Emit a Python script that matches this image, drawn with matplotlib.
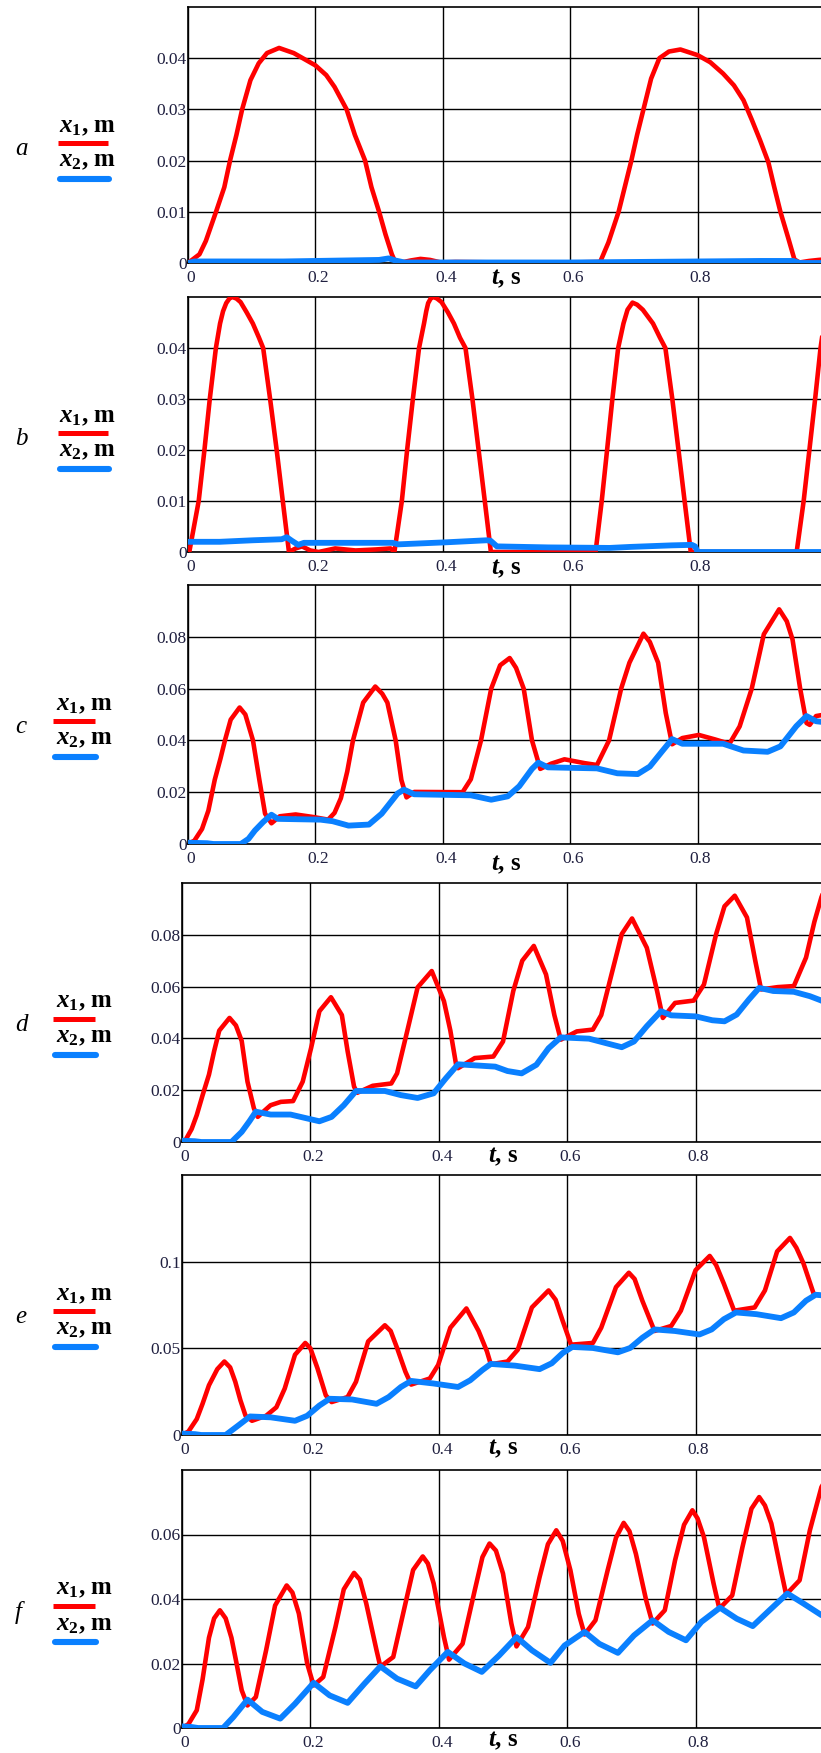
import matplotlib
matplotlib.use('Agg')
import matplotlib.pyplot as plt
from matplotlib.lines import Line2D
import matplotlib.transforms as mtransforms

# ── Data (t in s, x in m) ──────────────────────────────────

# panel a
ta1 = [0, 0.018, 0.028, 0.044, 0.057, 0.066, 0.076, 0.085, 0.098, 0.111, 0.124, 0.143,
       0.166, 0.2, 0.217, 0.23, 0.249, 0.262, 0.278, 0.288, 0.30, 0.31, 0.32, 0.325,
       0.335, 0.35, 0.365, 0.38, 0.397, 0.42, 0.5, 0.6, 0.647, 0.66, 0.676, 0.686,
       0.696, 0.705, 0.715, 0.727, 0.74, 0.755, 0.773, 0.8, 0.82, 0.84, 0.857, 0.872,
       0.885, 0.898, 0.911, 0.92, 0.93, 0.942, 0.952, 0.96, 0.975, 0.99, 1.0]
xa1 = [0, 0.0017, 0.0043, 0.01, 0.0148, 0.02, 0.025, 0.03, 0.0357, 0.039, 0.041, 0.042,
       0.041, 0.0386, 0.0367, 0.0344, 0.030, 0.025, 0.020, 0.0148, 0.010, 0.0056, 0.0017, 0.0003,
       0.0001, 0.0005, 0.0008, 0.0006, 0.0001, 0.0002, 0.0001, 0.0001, 0.0002, 0.004, 0.01, 0.015,
       0.02, 0.025, 0.03, 0.036, 0.04, 0.0413, 0.0417, 0.0406, 0.0392, 0.037, 0.0347, 0.0318,
       0.028, 0.024, 0.0197, 0.015, 0.01, 0.005, 0.0007, 0.0001, 0.0004, 0.0006, 0.0007]
ta2 = [0, 0.01, 0.15, 0.25, 0.30, 0.315, 0.325, 0.34, 0.6, 0.7, 0.8, 0.9, 0.95, 0.96, 1.0]
xa2 = [0, 0.0003, 0.0003, 0.0005, 0.0006, 0.0009, 0.0005, 0.0001, 0.0001, 0.0002, 0.0003,
       0.0004, 0.0004, 0.0, 0.0]

# panel b
tb1 = [0, 0.002, 0.0168, 0.0258, 0.0342, 0.0438, 0.0503, 0.055, 0.06, 0.065, 0.0696, 0.076,
       0.0825, 0.092, 0.1018, 0.1115, 0.118, 0.1289, 0.1392, 0.1488, 0.1585,
       0.169, 0.179, 0.192, 0.205, 0.231, 0.263, 0.295, 0.318, 0.324,
       0.3357, 0.344, 0.353, 0.3627, 0.3705, 0.374, 0.377, 0.381, 0.3853, 0.391, 0.398,
       0.408, 0.4175, 0.427, 0.4356, 0.4465, 0.4562, 0.4659, 0.4755,
       0.55, 0.6398, 0.6495, 0.6579, 0.6662, 0.6753, 0.6836, 0.69, 0.6978, 0.705, 0.714,
       0.73, 0.741, 0.7494, 0.7603, 0.77, 0.7796, 0.7893,
       0.9, 0.9555, 0.9665, 0.9755, 0.9845, 0.993, 1.0]
xb1 = [0, 0, 0.01, 0.02, 0.03, 0.04, 0.0448, 0.0472, 0.0488, 0.0497, 0.05, 0.0497,
       0.049, 0.047, 0.0448, 0.042, 0.04, 0.03, 0.02, 0.01, 0,
       0.0007, 0.0011, 0.0003, 0, 0.0007, 0.0003, 0.0005, 0.0007, 0,
       0.01, 0.02, 0.03, 0.04, 0.0448, 0.0472, 0.0488, 0.0497, 0.05, 0.0497, 0.049,
       0.047, 0.0448, 0.042, 0.04, 0.03, 0.02, 0.01, 0,
       0, 0, 0.01, 0.02, 0.03, 0.04, 0.0448, 0.0475, 0.0489, 0.0485, 0.0475,
       0.0448, 0.042, 0.04, 0.03, 0.02, 0.01, 0,
       0, 0, 0.01, 0.02, 0.03, 0.04, 0.046]
tb2 = [0, 0.05, 0.102, 0.147, 0.155, 0.163, 0.173, 0.182, 0.321, 0.33, 0.405, 0.469, 0.475,
       0.485, 0.566, 0.662, 0.695, 0.759, 0.791, 0.796, 0.8, 1.0]
xb2 = [0.002, 0.002, 0.0023, 0.0025, 0.0029, 0.0022, 0.0014, 0.0018, 0.0018, 0.0015, 0.0019,
       0.0023, 0.0022, 0.0011, 0.0009, 0.0008, 0.001, 0.0013, 0.0014, 0.0011, 0, 0]

# panel c
tc1 = [0, 0.01, 0.022, 0.032, 0.042, 0.051, 0.058, 0.067, 0.081, 0.09, 0.102, 0.112, 0.121,
       0.131, 0.144, 0.169, 0.197, 0.22, 0.23, 0.24, 0.25, 0.259, 0.275, 0.294, 0.305, 0.313,
       0.326, 0.335, 0.343, 0.355, 0.431, 0.444, 0.46, 0.476, 0.49, 0.505, 0.515, 0.527, 0.54,
       0.553, 0.57, 0.591, 0.623, 0.642, 0.661, 0.68, 0.693, 0.715, 0.725, 0.738, 0.75, 0.76,
       0.776, 0.802, 0.827, 0.85, 0.866, 0.885, 0.904, 0.928, 0.94, 0.949, 0.961, 0.971,
       0.976, 0.986, 1.0]
xc1 = [0, 0.0013, 0.0058, 0.0129, 0.0248, 0.033, 0.04, 0.048, 0.0527, 0.05, 0.04, 0.0248, 0.0117,
       0.008, 0.0107, 0.0114, 0.0104, 0.0094, 0.012, 0.0177, 0.028, 0.04, 0.0546, 0.0608, 0.058,
       0.0546, 0.04, 0.0247, 0.018, 0.0201, 0.02, 0.025, 0.04, 0.06, 0.069, 0.0718, 0.068, 0.06,
       0.04, 0.029, 0.031, 0.0327, 0.0312, 0.0305, 0.04, 0.06, 0.07, 0.0812, 0.078, 0.07, 0.0506,
       0.0385, 0.0409, 0.0421, 0.0404, 0.0387, 0.0454, 0.06, 0.081, 0.0906, 0.086, 0.079, 0.06,
       0.0467, 0.046, 0.0494, 0.05]
tc2 = [0, 0.03, 0.04, 0.083, 0.095, 0.105, 0.118, 0.131, 0.141, 0.208, 0.227, 0.252, 0.284,
       0.304, 0.329, 0.339, 0.355, 0.444, 0.476, 0.502, 0.52, 0.54, 0.55, 0.565, 0.642, 0.674,
       0.706, 0.725, 0.744, 0.76, 0.776, 0.84, 0.872, 0.91, 0.93, 0.955, 0.971, 0.986, 1.0]
xc2 = [0.0005, 0.0003, 0, 0, 0.002, 0.0052, 0.0085, 0.0113, 0.0097, 0.0094, 0.0088, 0.0071,
       0.0075, 0.0117, 0.0195, 0.021, 0.0192, 0.0188, 0.0171, 0.0184, 0.0223, 0.029, 0.0314,
       0.0296, 0.0292, 0.0273, 0.027, 0.0299, 0.0357, 0.0405, 0.0387, 0.0387, 0.0361, 0.0356,
       0.0377, 0.0455, 0.0494, 0.0474, 0.047]

# panel d
td1 = [0, 0.006, 0.015, 0.023, 0.032, 0.042, 0.05, 0.058, 0.074, 0.084, 0.093, 0.102, 0.112,
       0.118, 0.128, 0.138, 0.154, 0.173, 0.188, 0.201, 0.214, 0.232, 0.249, 0.258, 0.268,
       0.273, 0.297, 0.326, 0.335, 0.351, 0.367, 0.389, 0.408, 0.418, 0.427, 0.43, 0.456,
       0.485, 0.5, 0.516, 0.53, 0.548, 0.567, 0.58, 0.59, 0.615, 0.64, 0.653, 0.669, 0.685,
       0.701, 0.724, 0.74, 0.749, 0.768, 0.797, 0.813, 0.832, 0.845, 0.861, 0.88, 0.893,
       0.902, 0.928, 0.953, 0.972, 0.985, 0.996, 1.0]
xd1 = [0, 0.001, 0.005, 0.0104, 0.018, 0.026, 0.035, 0.043, 0.0479, 0.045, 0.039, 0.0233, 0.013,
       0.0097, 0.012, 0.0142, 0.0155, 0.0158, 0.0233, 0.0362, 0.0505, 0.0559, 0.049, 0.035,
       0.0214, 0.019, 0.0217, 0.0226, 0.0265, 0.043, 0.0597, 0.066, 0.0544, 0.043, 0.0298,
       0.0285, 0.0324, 0.033, 0.0388, 0.0583, 0.07, 0.0757, 0.0647, 0.049, 0.0395, 0.0427,
       0.0434, 0.049, 0.0647, 0.0803, 0.0863, 0.075, 0.0583, 0.0479, 0.0537, 0.0546, 0.0608,
       0.0803, 0.091, 0.0951, 0.0867, 0.0699, 0.0589, 0.0598, 0.0602, 0.0712, 0.085, 0.0945,
       0.097]
td2 = [0, 0.02, 0.03, 0.077, 0.093, 0.105, 0.115, 0.138, 0.169, 0.214, 0.233, 0.252, 0.271,
       0.316, 0.341, 0.367, 0.392, 0.411, 0.43, 0.488, 0.507, 0.529, 0.552, 0.571, 0.59, 0.634,
       0.66, 0.685, 0.704, 0.724, 0.746, 0.762, 0.8, 0.826, 0.845, 0.864, 0.883, 0.899, 0.921,
       0.953, 0.978, 0.996, 1.0]
xd2 = [0.0005, 0.0003, 0, 0, 0.0039, 0.008, 0.0117, 0.0106, 0.0106, 0.008, 0.0097, 0.0142,
       0.0197, 0.0197, 0.0181, 0.017, 0.0188, 0.0246, 0.03, 0.0291, 0.0274, 0.0265, 0.0298,
       0.0362, 0.0404, 0.0399, 0.0382, 0.0366, 0.0388, 0.0447, 0.0505, 0.0489, 0.0485, 0.047,
       0.0466, 0.0492, 0.055, 0.0595, 0.0583, 0.058, 0.0563, 0.0546, 0.054]

# panel e
te1 = [0, 0.01, 0.023, 0.032, 0.042, 0.055, 0.066, 0.075, 0.083, 0.091, 0.099, 0.109, 0.131,
       0.147, 0.16, 0.176, 0.192, 0.2, 0.211, 0.224, 0.233, 0.258, 0.271, 0.29, 0.316, 0.325,
       0.335, 0.348, 0.357, 0.386, 0.399, 0.418, 0.443, 0.462, 0.475, 0.481, 0.507, 0.523,
       0.545, 0.571, 0.582, 0.593, 0.606, 0.64, 0.653, 0.676, 0.696, 0.705, 0.717, 0.736,
       0.762, 0.777, 0.8, 0.822, 0.832, 0.844, 0.86, 0.892, 0.908, 0.927, 0.947, 0.957, 0.968,
       0.984, 0.996, 1.0]
xe1 = [0, 0.002, 0.0092, 0.018, 0.0287, 0.038, 0.0424, 0.039, 0.0307, 0.02, 0.0111, 0.0082,
       0.0111, 0.016, 0.0268, 0.0463, 0.0531, 0.05, 0.0385, 0.0229, 0.019, 0.0219, 0.0307,
       0.054, 0.0633, 0.06, 0.0502, 0.0365, 0.0291, 0.0326, 0.0404, 0.0619, 0.073, 0.06, 0.0482,
       0.0408, 0.0424, 0.0492, 0.0736, 0.0834, 0.078, 0.0658, 0.0521, 0.0531, 0.0619, 0.0853,
       0.0936, 0.09, 0.0775, 0.06, 0.0629, 0.0717, 0.0951, 0.1033, 0.098, 0.0873, 0.0717,
       0.0736, 0.0834, 0.1059, 0.1137, 0.108, 0.099, 0.0814, 0.0805, 0.081]
te2 = [0, 0.02, 0.03, 0.068, 0.087, 0.106, 0.138, 0.176, 0.195, 0.214, 0.23, 0.265, 0.303,
       0.322, 0.341, 0.357, 0.392, 0.43, 0.449, 0.468, 0.481, 0.519, 0.557, 0.576, 0.593, 0.608,
       0.64, 0.679, 0.698, 0.717, 0.736, 0.768, 0.806, 0.825, 0.844, 0.863, 0.895, 0.933, 0.953,
       0.972, 0.987, 1.0]
xe2 = [0.0008, 0.0005, 0, 0, 0.0053, 0.0107, 0.0102, 0.0082, 0.0111, 0.017, 0.0209, 0.0205,
       0.018, 0.0219, 0.0277, 0.0312, 0.0297, 0.0277, 0.0316, 0.0375, 0.041, 0.04, 0.038, 0.0414,
       0.0473, 0.0508, 0.0502, 0.0477, 0.0502, 0.0561, 0.0609, 0.06, 0.058, 0.0609, 0.0668,
       0.0707, 0.0697, 0.0674, 0.0707, 0.0775, 0.0809, 0.0805]

# panel f
tf1 = [0, 0.01, 0.023, 0.032, 0.042, 0.05, 0.059, 0.068, 0.077, 0.085, 0.093, 0.102, 0.115,
       0.131, 0.145, 0.163, 0.172, 0.182, 0.195, 0.205, 0.22, 0.239, 0.252, 0.268, 0.277,
       0.287, 0.303, 0.309, 0.329, 0.348, 0.36, 0.375, 0.383, 0.392, 0.408, 0.416, 0.437,
       0.456, 0.468, 0.479, 0.489, 0.5, 0.513, 0.521, 0.539, 0.557, 0.57, 0.583, 0.593, 0.605,
       0.618, 0.627, 0.644, 0.663, 0.676, 0.688, 0.697, 0.707, 0.723, 0.733, 0.752, 0.768,
       0.782, 0.795, 0.803, 0.813, 0.828, 0.837, 0.857, 0.873, 0.887, 0.899, 0.908, 0.918,
       0.934, 0.941, 0.962, 0.978, 0.996, 1.0]
xf1 = [0, 0.0012, 0.0055, 0.015, 0.028, 0.034, 0.0365, 0.034, 0.028, 0.02, 0.0117, 0.007,
       0.0096, 0.0241, 0.038, 0.0442, 0.042, 0.0355, 0.02, 0.0132, 0.0158, 0.0313, 0.043,
       0.0481, 0.046, 0.0386, 0.0241, 0.019, 0.022, 0.0386, 0.049, 0.0532, 0.051, 0.0448,
       0.0282, 0.0212, 0.0261, 0.0427, 0.053, 0.0572, 0.055, 0.0479, 0.0324, 0.0253, 0.0313,
       0.0468, 0.057, 0.0613, 0.058, 0.0489, 0.0354, 0.029, 0.0334, 0.0489, 0.059, 0.0636,
       0.061, 0.054, 0.0396, 0.0324, 0.0365, 0.052, 0.063, 0.0675, 0.065, 0.0592, 0.0448,
       0.037, 0.0411, 0.0561, 0.068, 0.0716, 0.069, 0.0634, 0.0479, 0.0414, 0.0458, 0.0613,
       0.0747, 0.076]
tf2 = [0, 0.015, 0.025, 0.064, 0.08, 0.102, 0.125, 0.153, 0.176, 0.205, 0.23, 0.258, 0.284,
       0.309, 0.335, 0.364, 0.386, 0.414, 0.44, 0.467, 0.494, 0.521, 0.545, 0.574, 0.596, 0.627,
       0.65, 0.679, 0.704, 0.733, 0.758, 0.785, 0.809, 0.838, 0.864, 0.889, 0.915, 0.943, 0.968,
       0.996, 1.0]
xf2 = [0.0005, 0.0003, 0, 0, 0.0034, 0.0088, 0.005, 0.0029, 0.0075, 0.014, 0.0101, 0.0078,
       0.0137, 0.0191, 0.0153, 0.0129, 0.0179, 0.0236, 0.02, 0.0174, 0.0225, 0.0282, 0.0241,
       0.0202, 0.0256, 0.0298, 0.0261, 0.0233, 0.0287, 0.0334, 0.0298, 0.0272, 0.0329, 0.0373,
       0.0339, 0.0316, 0.0365, 0.0417, 0.0386, 0.035, 0.0348]

panel_letters = ['a', 'b', 'c', 'd', 'e', 'f']
y_max = [0.05, 0.05, 0.1, 0.1, 0.15, 0.08]
y_ticks = [[0, 0.01, 0.02, 0.03, 0.04],
           [0, 0.01, 0.02, 0.03, 0.04],
           [0, 0.02, 0.04, 0.06, 0.08],
           [0, 0.02, 0.04, 0.06, 0.08],
           [0, 0.05, 0.1],
           [0, 0.02, 0.04, 0.06]]
y_labels = [['0', '0.01', '0.02', '0.03', '0.04'],
            ['0', '0.01', '0.02', '0.03', '0.04'],
            ['0', '0.02', '0.04', '0.06', '0.08'],
            ['0', '0.02', '0.04', '0.06', '0.08'],
            ['0', '0.05', '0.1'],
            ['0', '0.02', '0.04', '0.06']]
x_ticks = [0, 0.2, 0.4, 0.6, 0.8]
x_labels = ['0', '0.2', '0.4', '0.6', '0.8']

series = [(ta1, xa1, ta2, xa2), (tb1, xb1, tb2, xb2), (tc1, xc1, tc2, xc2),
          (td1, xd1, td2, xd2), (te1, xe1, te2, xe2), (tf1, xf1, tf2, xf2)]

# ── Layout (pixels of the 821x1753 picture) ────────────────

W, H = 821, 1753
RED = '#ff0000'
BLUE = '#0a80ff'
TXT = '#202040'
SERIF = 'Liberation Serif'

# left, top, bottom, width of the plotting box
boxes = [(188, 7, 263, 637), (188, 297, 552, 637), (188, 585, 844, 637),
         (182, 883, 1142, 642), (182, 1175, 1435, 642), (182, 1470, 1728, 642)]
ts_drop = [15, 16, 20, 15, 14, 13]
leg_x = [(59, 58, 108), (59, 58, 108), (56, 53, 95), (56, 53, 95), (56, 53, 95), (56, 53, 95)]

plt.rcParams['mathtext.fontset'] = 'custom'
plt.rcParams['mathtext.it'] = 'Liberation Serif:italic:bold'
plt.rcParams['mathtext.rm'] = 'Liberation Serif:bold'
plt.rcParams['mathtext.bf'] = 'Liberation Serif:bold'

fig = plt.figure(figsize=(W / 100, H / 100), dpi=100)


def fx(px):
    return px / W


def fy(py):
    return 1 - py / H


for i, (t1, x1, t2, x2) in enumerate(series):
    left, top, bot, width = boxes[i]
    ax = fig.add_axes([fx(left), fy(bot), width / W, (bot - top) / H])
    ax.plot(t1, x1, color=RED, lw=3.3, solid_joinstyle='round', zorder=3)
    ax.plot(t2, x2, color=BLUE, lw=4.2, solid_joinstyle='round',
            solid_capstyle='round', zorder=4)
    ax.set_xlim(0, 1)
    ax.set_ylim(0, y_max[i])
    ax.set_xticks(x_ticks)
    ax.set_xticklabels(x_labels)
    ax.set_yticks(y_ticks[i])
    ax.set_yticklabels(y_labels[i])
    ax.grid(True, color='black', lw=1.0)
    ax.set_axisbelow(True)
    for s in ax.spines.values():
        s.set_linewidth(1.2)
        s.set_color('black')
    ax.tick_params(length=0, labelsize=12.5, colors=TXT)
    ax.tick_params(axis='x', pad=5)
    ax.tick_params(axis='y', pad=1)
    shift = mtransforms.ScaledTranslation(3 / 100, 0, fig.dpi_scale_trans)
    for lab in ax.get_xticklabels() + ax.get_yticklabels():
        lab.set_fontfamily(SERIF)
    for lab in ax.get_xticklabels():
        lab.set_transform(lab.get_transform() + shift)

    # t, s label under the axis
    fig.text(fx(left + 0.5 * width), fy(bot + ts_drop[i]), r'$t$, s',
             fontsize=18, fontweight='bold', family=SERIF,
             ha='center', va='center', color='black')

    # legend block on the left
    tx, l0, l1 = leg_x[i]
    fig.text(fx(15), fy(top + 142), panel_letters[i], fontsize=18, style='italic',
             family=SERIF, ha='left', va='center')
    fig.text(fx(tx), fy(top + 119), r'$x_{\mathit{1}}$, m', fontsize=18,
             fontweight='bold', family=SERIF, ha='left', va='center')
    fig.text(fx(tx), fy(top + 154), r'$x_{\mathit{2}}$, m', fontsize=18,
             fontweight='bold', family=SERIF, ha='left', va='center')
    fig.add_artist(Line2D([fx(l0), fx(l1)], [fy(top + 136)] * 2, color=RED,
                          lw=3.6, solid_capstyle='butt', transform=fig.transFigure))
    fig.add_artist(Line2D([fx(l0 + 2), fx(l1 + 1)], [fy(top + 172)] * 2, color=BLUE,
                          lw=4.4, solid_capstyle='round', transform=fig.transFigure))

fig.savefig('out.png', dpi=100)
